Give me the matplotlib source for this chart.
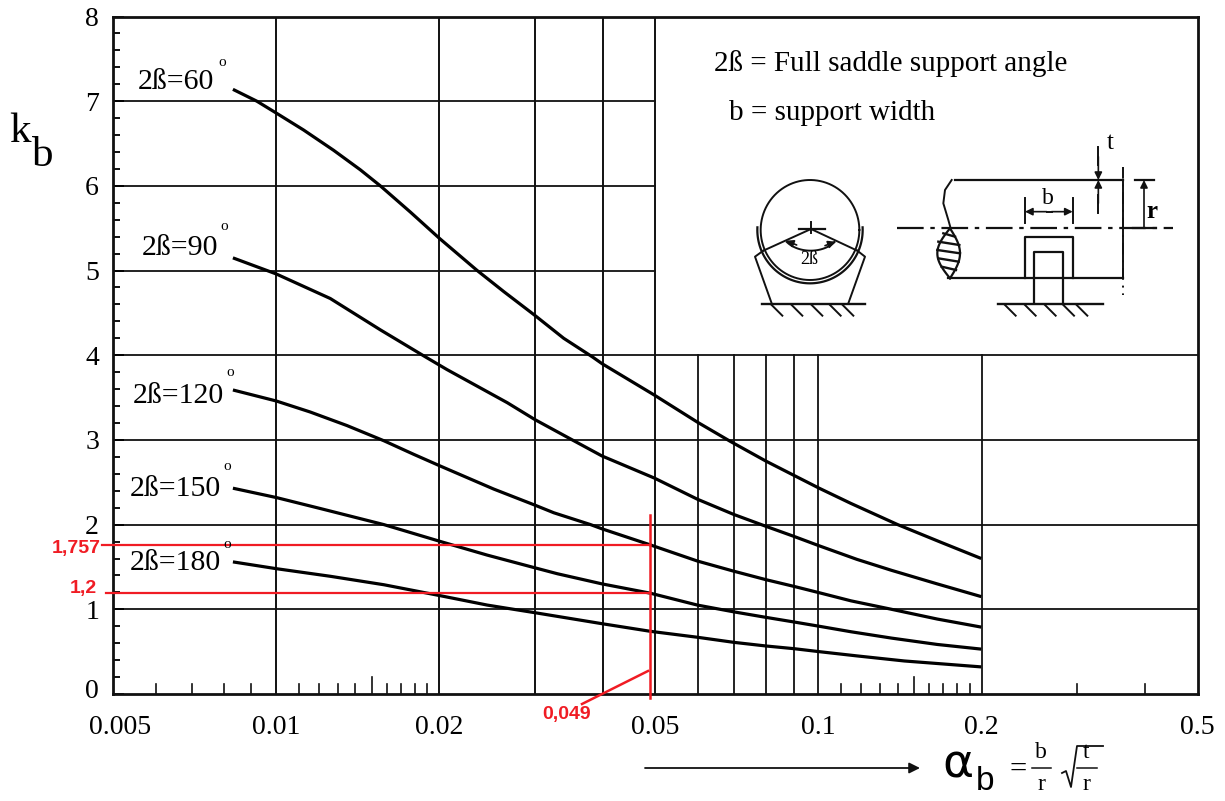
import numpy as np
import matplotlib
matplotlib.use('Agg')
import matplotlib.pyplot as plt
from matplotlib.transforms import ScaledTranslation

plt.rcParams['font.family'] = ['Liberation Serif', 'DejaVu Serif']

# curves
x_60 = [0.00832, 0.00921, 0.01, 0.01123, 0.01276, 0.01429, 0.01556, 0.01768, 0.02, 0.02348, 0.0263,
        0.03, 0.0339, 0.0383, 0.0399, 0.0498, 0.0598, 0.0689, 0.08, 0.0902, 0.1003, 0.1148, 0.14,
        0.1684, 0.1996]
k_60 = [7.14, 7.0, 6.86, 6.66, 6.42, 6.19, 6.0, 5.69, 5.38, 5.0, 4.75,
        4.47, 4.2, 3.98, 3.9, 3.53, 3.21, 2.98, 2.75, 2.58, 2.43, 2.25, 2.0,
        1.79, 1.6]
x_90 = [0.00832, 0.01, 0.01258, 0.01556, 0.01885, 0.02066, 0.02667, 0.03, 0.03516, 0.0399, 0.0498,
        0.0598, 0.0698, 0.08, 0.0902, 0.1003, 0.1177, 0.1364, 0.1656, 0.1996]
k_90 = [5.15, 4.96, 4.67, 4.3, 3.98, 3.83, 3.44, 3.24, 3.0, 2.81, 2.55,
        2.3, 2.12, 1.98, 1.86, 1.75, 1.59, 1.46, 1.3, 1.15]
x_120 = [0.00832, 0.01, 0.01155, 0.0135, 0.0158, 0.01793, 0.0201, 0.02518, 0.03, 0.0325, 0.038,
         0.0399, 0.049, 0.0598, 0.0698, 0.08, 0.0902, 0.1003, 0.1148, 0.1364, 0.1656, 0.1996]
k_120 = [3.59, 3.46, 3.33, 3.17, 2.99, 2.83, 2.69, 2.42, 2.23, 2.14, 2.0,
         1.95, 1.76, 1.57, 1.45, 1.35, 1.27, 1.196, 1.1, 1.0, 0.885, 0.79]
x_150 = [0.00832, 0.01, 0.01206, 0.0158, 0.0201, 0.0245, 0.03, 0.033, 0.0399, 0.049, 0.0598,
         0.0698, 0.08, 0.0902, 0.1003, 0.1148, 0.1364, 0.1656, 0.1996]
k_150 = [2.43, 2.32, 2.19, 2.0, 1.8, 1.64, 1.49, 1.42, 1.3, 1.19, 1.05,
         0.97, 0.905, 0.85, 0.8, 0.735, 0.66, 0.585, 0.53]
x_180 = [0.00832, 0.01, 0.01258, 0.0158, 0.0201, 0.0245, 0.0274, 0.03, 0.0399, 0.049, 0.0598,
         0.0698, 0.08, 0.0902, 0.1003, 0.1177, 0.144, 0.1996]
k_180 = [1.56, 1.48, 1.39, 1.29, 1.16, 1.05, 1.0, 0.96, 0.83, 0.74, 0.67,
         0.61, 0.567, 0.535, 0.5, 0.45, 0.39, 0.32]

full_grid = [0.01, 0.02, 0.03, 0.04, 0.05]
low_grid = [0.06, 0.07, 0.08, 0.09, 0.1, 0.2]
short_y = [5, 6, 7]
long_y = [1, 2, 3, 4]
x_major = [0.005, 0.01, 0.02, 0.05, 0.1, 0.2, 0.5]
x_labels = ['0.005', '0.01', '0.02', '0.05', '0.1', '0.2', '0.5']
x_small = [0.006, 0.007, 0.008, 0.009, 0.011, 0.012, 0.013, 0.014, 0.016, 0.017, 0.018, 0.019,
           0.11, 0.12, 0.13, 0.14, 0.16, 0.17, 0.18, 0.19, 0.3, 0.4]
x_mid = [0.015, 0.15]

fig = plt.figure(figsize=(12.25, 8.01), dpi=100)
ax = fig.add_axes([113 / 1225, 1 - 694 / 801, (1197.5 - 113) / 1225, (694 - 16.5) / 801])
ax.set_xscale('log')
ax.set_xlim(0.005, 0.5)
ax.set_ylim(0, 8)

for v in full_grid:
    ax.plot([v, v], [0, 8], color='#111111', lw=1.4, zorder=1)
for v in low_grid:
    ax.plot([v, v], [0, 4], color='#111111', lw=1.3, zorder=1)
for v in long_y:
    ax.plot([0.005, 0.5], [v, v], color='#111111', lw=1.3, zorder=1)
for v in short_y:
    ax.plot([0.005, 0.05], [v, v], color='#111111', lw=1.3, zorder=1)

for xs, ks in [(x_60, k_60), (x_90, k_90), (x_120, k_120), (x_150, k_150), (x_180, k_180)]:
    ax.plot(xs, ks, color='black', lw=2.3, zorder=3, solid_capstyle='butt', solid_joinstyle='round')

ax.xaxis.set_major_locator(matplotlib.ticker.FixedLocator(x_major))
ax.xaxis.set_major_formatter(matplotlib.ticker.FixedFormatter(x_labels))
ax.xaxis.set_minor_locator(matplotlib.ticker.NullLocator())
ax.set_yticks(range(0, 9))
ax.set_yticks(np.arange(0, 8.01, 0.2), minor=True)
ax.tick_params(axis='x', which='major', direction='in', length=0, labelsize=20, pad=15)
ax.tick_params(axis='y', which='major', direction='in', length=8, width=1.3, labelsize=20, pad=10)
ax.tick_params(axis='y', which='minor', direction='in', length=5, width=1.3)
for v in x_small:
    ax.plot([v, v], [0, 0.12], color='#111111', lw=1.2, zorder=1)
for v in x_mid:
    ax.plot([v, v], [0, 0.2], color='#111111', lw=1.2, zorder=1)
for s in ax.spines.values():
    s.set_linewidth(2.0)
    s.set_color('#111111')

# first labels sit a little off their ticks in the scan
xl0 = ax.get_xticklabels()[0]
xl0.set_transform(xl0.get_transform() + ScaledTranslation(7 / 100, 0, fig.dpi_scale_trans))
yl0 = ax.get_yticklabels()[0]
yl0.set_transform(yl0.get_transform() + ScaledTranslation(0, 6 / 100, fig.dpi_scale_trans))

# overlay in image pixels for annotations and the sketches
ov = fig.add_axes([0, 0, 1, 1], facecolor='none')
ov.set_xlim(0, 1225)
ov.set_ylim(801, 0)
ov.axis('off')

for txt, xp, yp, dx, dy in [('2ß=60', 138, 82, 84, -20), ('2ß=90', 142, 248, 82, -21),
                            ('2ß=120', 133, 396, 97, -24), ('2ß=150', 130, 489, 97, -23),
                            ('2ß=180', 130, 563, 97, -18)]:
    ov.text(xp, yp, txt, fontsize=21.5, va='center', ha='left')
    ov.text(xp + dx, yp + dy, 'o', fontsize=11, va='center', ha='center')

ov.text(9, 132, 'k', fontsize=31, va='center', ha='left')
ov.text(32, 156, 'b', fontsize=31, va='center', ha='left')

# red reading lines
red = '#f01c24'
ov.plot([102, 650], [545, 545], color=red, lw=1.6)
ov.plot([106, 650], [593, 593], color=red, lw=1.6)
ov.plot([650, 650], [515, 698], color=red, lw=1.8)
ov.plot([582, 648], [704, 671], color=red, lw=1.8)
ov.text(76, 548, '1,757', color=red, fontsize=14, family='Liberation Sans', weight='bold', ha='center', va='center')
ov.text(83, 589, '1,2', color=red, fontsize=14, family='Liberation Sans', weight='bold', ha='center', va='center')
ov.text(567, 714, '0,049', color=red, fontsize=14, family='Liberation Sans', weight='bold', ha='center', va='center')

# x axis formula
ov.annotate('', xy=(920, 768), xytext=(645, 768),
            arrowprops=dict(arrowstyle='-|>', color='#111111', lw=1.3, mutation_scale=16, shrinkA=0, shrinkB=0))
ov.text(958, 765, 'α', fontsize=34, ha='center', va='center', family='DejaVu Sans')
ov.text(985, 782, 'b', fontsize=24, ha='center', va='center', family='Liberation Sans')
ov.text(1018, 770, '=', fontsize=22, ha='center', va='center')
ov.text(1041, 752, 'b', fontsize=17, ha='center', va='center')
ov.text(1041, 784, 'r', fontsize=17, ha='center', va='center')
ov.plot([1032, 1051], [768, 768], color='#111111', lw=1.1)
ov.plot([1062, 1066, 1071, 1077, 1103], [773, 771, 787, 746, 746], color='#111111', lw=1.3)
ov.text(1086, 752, 't', fontsize=17, ha='center', va='center')
ov.text(1086, 784, 'r', fontsize=17, ha='center', va='center')
ov.plot([1077, 1097], [768, 768], color='#111111', lw=1.1)

# legend text
ov.text(714, 64, '2ß = Full saddle support angle', fontsize=21, ha='left', va='center')
ov.text(729, 113, 'b = support width', fontsize=21, ha='left', va='center')


def z(x, y):
    return 680 + np.asarray(x, dtype=float) / 3, 30 + np.asarray(y, dtype=float) / 3


def zl(xs, ys, lw=1.4, **kw):
    px, py = z(xs, ys)
    ov.plot(px, py, color='#111111', lw=lw, **kw)


def zarrow(x0, y0, x1, y1):
    p0 = z(x0, y0)
    p1 = z(x1, y1)
    ov.annotate('', xy=p1, xytext=p0,
                arrowprops=dict(arrowstyle='-|>', color='#111111', lw=1.2, mutation_scale=11, shrinkA=0, shrinkB=0))


# saddle sketch, front view
th = np.linspace(0, 2 * np.pi, 200)
zl(390 + 148 * np.cos(th), 600 + 150 * np.sin(th))
th2 = np.linspace(-0.05, np.pi + 0.05, 100)
zl(390 + 158 * np.cos(th2), 600 + 160 * np.sin(th2), lw=1.6)
zl([358, 435], [597, 597], lw=1.6)
zl([393, 393], [575, 610])
zl([250, 393, 532], [662, 597, 662])
th3 = np.linspace(0.62, np.pi - 0.62, 40)
zl(392 + 88 * np.cos(th3), 600 + 62 * np.sin(th3))
zarrow(350, 645, 318, 632)
zarrow(435, 647, 467, 635)
px, py = z(388, 690)
ov.text(px, py, '2ß', fontsize=13, ha='center', va='center')
zl([250, 225, 275], [662, 680, 820])
zl([532, 555, 505], [662, 680, 820])
zl([245, 555], [822, 822], lw=1.7)
for h in [275, 335, 395, 450, 488]:
    zl([h, h + 32], [825, 857])

# saddle sketch, side view
zl([825, 1330], [450, 450], lw=1.6)
zl([805, 1330], [745, 745], lw=1.6)
zl([1330, 1330], [450, 745])
zl([1330, 1330], [410, 795], linestyle=(0, (6, 3, 1, 3)))
zl([815, 795, 790, 805, 812], [450, 480, 520, 570, 595])
zl([650, 1480], [595, 595], lw=1.6, linestyle=(0, (12, 3, 2, 3)))
s = np.linspace(0, 1, 40)
zl(810 - 38 * np.sin(np.pi * s), 595 + 150 * s, lw=1.6)
zl(810 + 30 * np.sin(np.pi * s), 595 + 150 * s, lw=1.6)
for yy, a, b in [(615, 790, 825), (640, 775, 838), (665, 772, 840), (690, 775, 836), (715, 785, 828)]:
    zl([a, b], [yy - 5, yy + 5], lw=1.7)
zl([1035, 1035], [505, 578])
zl([1178, 1178], [505, 578])
zarrow(1100, 545, 1035, 545)
zarrow(1115, 545, 1178, 545)
zl([1100, 1115], [545, 545])
px, py = z(1105, 505)
ov.text(px, py, 'b', fontsize=17, ha='center', va='center')
zl([1035, 1035, 1178, 1178], [745, 620, 620, 745], lw=1.6)
zl([1063, 1063, 1148, 1148], [820, 665, 665, 820], lw=1.6)
zl([955, 1268], [822, 822], lw=1.7)
for h in [975, 1035, 1095, 1150, 1190]:
    zl([h, h + 32], [825, 857])
zl([1255, 1255], [350, 405])
zarrow(1255, 380, 1255, 450)
zl([1255, 1255], [495, 550])
zarrow(1255, 520, 1255, 450)
px, py = z(1292, 340)
ov.text(px, py, 't', fontsize=18, ha='center', va='center')
zl([1365, 1422], [450, 450], lw=1.6)
zl([1360, 1428], [595, 595], lw=1.6)
zarrow(1392, 595, 1392, 450)
px, py = z(1416, 545)
ov.text(px, py, 'r', fontsize=18, weight='bold', ha='center', va='center')

fig.savefig('out.png', dpi=100)
plt.close()
